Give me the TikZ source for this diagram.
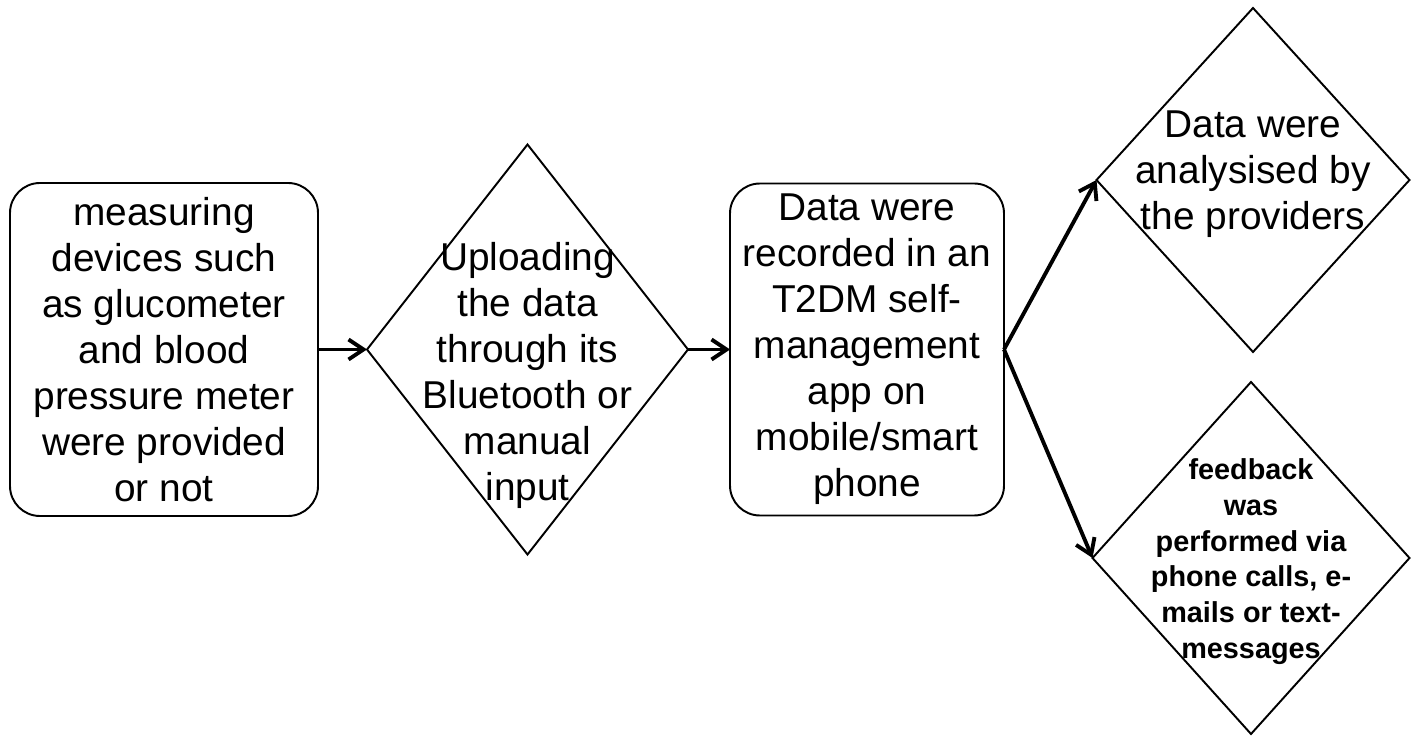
\documentclass[tikz,border=0pt]{standalone}
\usepackage{fontspec}
\setmainfont{Liberation Sans}
\usetikzlibrary{arrows.meta,positioning,shapes.geometric}
\tikzset{
  rblock/.style={draw, rounded corners=0.6cm, line width=1.1pt, minimum width=6.16cm,
                 minimum height=6.66cm, inner sep=0pt, outer sep=0pt, align=center,
                 font=\fontsize{22.1}{26.2}\selectfont},
  decision/.style={draw, diamond, line width=1.1pt, inner sep=0pt, outer sep=0pt},
  txt/.style={align=center, inner sep=0pt, font=\fontsize{22.1}{26.2}\selectfont},
  btxt/.style={align=center, inner sep=0pt, font=\bfseries\fontsize{16.4}{20.3}\selectfont},
  arrow/.style={-{Straight Barb[length=0.3cm,width=0.4cm]}, line width=2.2pt}
}
\begin{document}
\begin{tikzpicture}
  \useasboundingbox (0,0) rectangle (28.32,14.72);
  \node[rblock] (dev) at (3.28,7.73) {measuring\\devices such\\as glucometer\\and blood\\pressure meter\\were provided\\or not};
  \node[decision, minimum width=6.42cm, minimum height=8.2cm, right=0.98cm of dev] (upl) {};
  \node[rblock, minimum width=5.48cm, minimum height=6.64cm, right=0.84cm of upl] (rec) {Data were\\recorded in an\\T2DM self-\\management\\app on\\mobile/smart\\phone};
  \node[decision, minimum width=6.26cm, minimum height=6.88cm] (ana) at (25.06,11.12) {};
  \node[decision, minimum width=6.34cm, minimum height=7.04cm] (fbk) at (25.02,3.56) {};
  % texts run over the diamond edges
  \node[txt, yshift=-0.52cm] (uplt) at (upl) {Uploading\\the data\\through its\\Bluetooth or\\manual\\input};
  \node[txt, yshift=0.12cm] (anat) at (ana) {Data were\\analysised by\\the providers};
  \node[btxt, yshift=-0.07cm] (fbkt) at (fbk) {feedback\\was\\performed via\\phone calls, e-\\mails or text-\\messages};
  \draw[arrow] (dev)--(upl);
  \draw[arrow] (upl)--(rec);
  \draw[arrow] (rec.east)--(ana.west);
  \draw[arrow] (rec.east)--(fbk.west);
\end{tikzpicture}
\end{document}
